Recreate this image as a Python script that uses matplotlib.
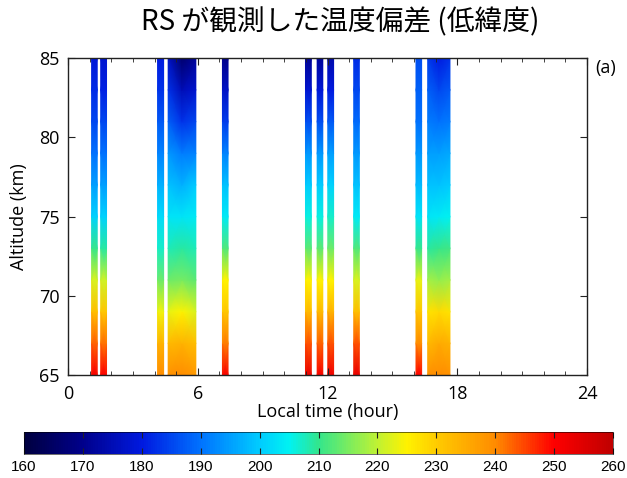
import numpy as np
import matplotlib.pyplot as plt
from matplotlib.colors import LinearSegmentedColormap, Normalize
from matplotlib.ticker import MultipleLocator

plt.rcParams['font.family'] = ['Open Sans', 'Noto Sans CJK JP', 'DejaVu Sans']

# altitude nodes (km)
alt = np.array([65, 67, 69, 71, 73, 75, 77, 79, 81, 83, 85])

# narrow observation strips: start / end local time (hour)
narrow_t0 = [1.09, 1.51, 4.14, 7.14, 10.98, 11.52, 12.01, 13.21, 16.09]
narrow_t1 = [1.35, 1.78, 4.42, 7.40, 11.25, 11.78, 12.28, 13.47, 16.35]
# temperature (K) from 65 km up to 85 km for each narrow strip
narrow_temp = [
    [251, 243, 232, 222, 210, 201, 195, 190, 185, 182, 179],
    [250, 242, 231, 221, 209, 201, 195, 190, 185, 181, 178],
    [240, 234, 224, 214, 207, 202, 197, 192, 187, 183, 180],
    [251, 241, 231, 225, 212, 204, 199, 192, 184, 177, 170],
    [253, 244, 233, 225, 213, 206, 200, 194, 186, 178, 171],
    [251, 243, 233, 225, 213, 206, 200, 194, 186, 179, 172],
    [252, 244, 234, 225, 214, 207, 201, 195, 187, 180, 174],
    [253, 244, 232, 222, 212, 204, 199, 194, 189, 185, 182],
    [250, 240, 231, 223, 210, 203, 198, 194, 190, 188, 186],
]

# wide strips: time nodes (left, centre, right) and profiles at each node
wide1_x = [4.63, 5.27, 5.91]
wide1_temp = [
    [239, 233, 223, 214, 208, 203, 199, 194, 188, 183, 177],
    [240, 234, 225, 215, 209, 203, 197, 191, 183, 175, 166],
    [238, 232, 222, 213, 208, 204, 200, 192, 185, 178, 172],
]
wide2_x = [16.63, 17.15, 17.66]
wide2_temp = [
    [239, 233, 227, 218, 209, 203, 199, 195, 191, 188, 184],
    [240, 235, 228, 217, 210, 204, 199, 195, 190, 185, 180],
    [239, 234, 227, 218, 211, 205, 200, 196, 191, 187, 183],
]

cbar_ticks = [160, 170, 180, 190, 200, 210, 220, 230, 240, 250, 260]

# jet-like map matching the reference colour bar
anchors = [
    (160, (0.0, 0.0, 0.25)),
    (170, (0.0, 0.0, 0.55)),
    (180, (0.0, 0.1, 0.88)),
    (190, (0.0, 0.45, 1.0)),
    (200, (0.0, 0.8, 1.0)),
    (205, (0.0, 0.95, 0.95)),
    (210, (0.2, 0.9, 0.55)),
    (220, (0.75, 0.95, 0.2)),
    (225, (1.0, 0.95, 0.0)),
    (230, (1.0, 0.8, 0.0)),
    (240, (1.0, 0.55, 0.0)),
    (250, (1.0, 0.0, 0.0)),
    (260, (0.75, 0.0, 0.0)),
]
cmap = LinearSegmentedColormap.from_list(
    'rs', [((v - 160) / 100, c) for v, c in anchors])
norm = Normalize(160, 260)

fig = plt.figure(figsize=(6.27, 4.78), dpi=100)
ax = fig.add_axes([0.1085, 0.2155, 0.8278, 0.6626])

mesh = None
for t0, t1, temp in zip(narrow_t0, narrow_t1, narrow_temp):
    X, Y = np.meshgrid([t0, t1], alt)
    C = np.column_stack([temp, temp])
    mesh = ax.pcolormesh(X, Y, C, shading='gouraud', cmap=cmap, norm=norm)

for wx, wt in [(wide1_x, wide1_temp), (wide2_x, wide2_temp)]:
    X, Y = np.meshgrid(wx, alt)
    C = np.array(wt).T
    ax.pcolormesh(X, Y, C, shading='gouraud', cmap=cmap, norm=norm)

ax.set_xlim(0, 24)
ax.set_ylim(65, 85)
ax.set_xticks([0, 6, 12, 18, 24])
ax.set_yticks([65, 70, 75, 80, 85])
ax.xaxis.set_minor_locator(MultipleLocator(1))
ax.tick_params(which='both', direction='in', top=True, right=True,
               labelsize=13, color='#222222')
ax.tick_params(axis='x', which='major', length=5, pad=7)
ax.tick_params(axis='y', which='major', length=5, pad=6)
ax.tick_params(which='minor', length=3)
for s in ax.spines.values():
    s.set_linewidth(1.0)
    s.set_color('#222222')

ax.set_xlabel('Local time (hour)', fontsize=13, labelpad=0)
ax.set_ylabel('Altitude (km)', fontsize=13, labelpad=8)
ax.text(1.016, 0.997, '(a)', transform=ax.transAxes, fontsize=13,
        ha='left', va='top')

fig.text(0.543, 0.954, 'RS が観測した温度偏差 (低緯度)', ha='center', va='center',
         fontsize=20, family=['Noto Sans CJK JP'])

cax = fig.add_axes([0.0383, 0.05, 0.9394, 0.0454])
cb = fig.colorbar(mesh, cax=cax, orientation='horizontal', ticks=cbar_ticks)
cb.outline.set_linewidth(0.4)
cax.xaxis.set_ticks_position('both')
cax.tick_params(direction='in', length=4, colors='#222222', width=0.8,
                labelsize=11, pad=4)
cax.tick_params(labelcolor='black')
for lab in cax.get_xticklabels():
    lab.set_family('Liberation Sans')

fig.savefig('out.png', dpi=100)
